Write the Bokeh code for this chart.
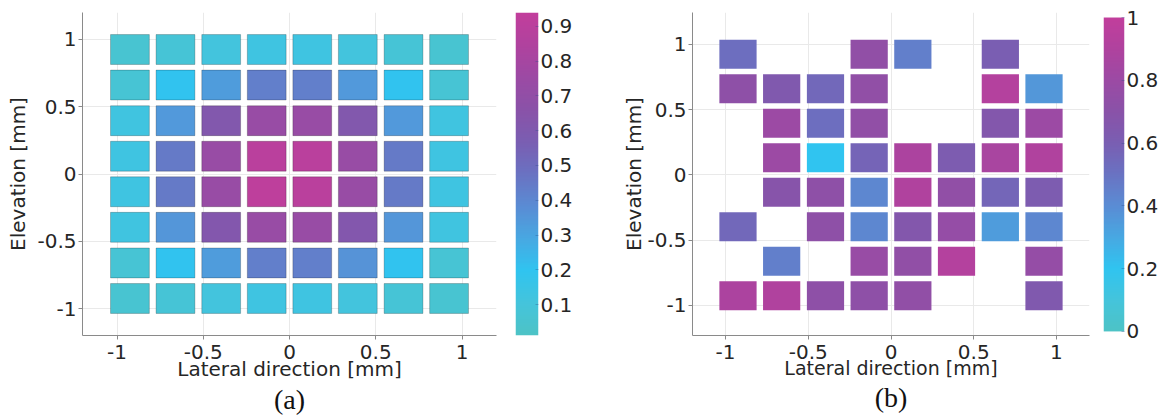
import numpy as np
from bokeh.plotting import figure
from bokeh.models import (LinearColorMapper, FixedTicker, LinearAxis,
                          ColumnDataSource, Range1d)
from bokeh.transform import linear_cmap
from bokeh.layouts import row
from bokeh.embed import file_html
from bokeh.resources import INLINE

# ---------------- data ----------------
lateral_mm = [-0.925, -0.661, -0.396, -0.132, 0.132, 0.396, 0.661, 0.925]
elevation_mm = [0.925, 0.661, 0.396, 0.132, -0.132, -0.396, -0.661, -0.925]

x_limits = [-1.2, 1.2]
a_y_limits = [-1.2, 1.2]
b_y_limits = [-1.23, 1.245]
axis_ticks = [-1, -0.5, 0, 0.5, 1]
axis_tick_labels = ["-1", "-0.5", "0", "0.5", "1"]

cbar_a_ticks = [0.1, 0.2, 0.3, 0.4, 0.5, 0.6, 0.7, 0.8, 0.9]
cbar_a_labels = ["0.1", "0.2", "0.3", "0.4", "0.5", "0.6", "0.7", "0.8", "0.9"]
cbar_a_limits = [0.011, 0.94]
cbar_a_view = [0.011, 0.94]

cbar_b_ticks = [0, 0.2, 0.4, 0.6, 0.8, 1]
cbar_b_labels = ["0", "0.2", "0.4", "0.6", "0.8", "1"]
cbar_b_limits = [0.0, 1.0]
cbar_b_view = [-0.013, 1.016]

# panel (a): rows from top (elevation +) to bottom
a_row1 = [0.06, 0.08, 0.11, 0.13, 0.13, 0.11, 0.08, 0.06]
a_row2 = [0.07, 0.20, 0.33, 0.43, 0.43, 0.34, 0.20, 0.07]
a_row3 = [0.12, 0.34, 0.61, 0.73, 0.73, 0.61, 0.34, 0.12]
a_row4 = [0.13, 0.45, 0.73, 0.90, 0.90, 0.73, 0.45, 0.13]
a_row5 = [0.13, 0.45, 0.73, 0.92, 0.90, 0.73, 0.45, 0.13]
a_row6 = [0.12, 0.35, 0.62, 0.73, 0.73, 0.62, 0.35, 0.12]
a_row7 = [0.07, 0.20, 0.33, 0.43, 0.43, 0.36, 0.20, 0.07]
a_row8 = [0.06, 0.08, 0.11, 0.13, 0.13, 0.11, 0.08, 0.06]

# panel (b): None = no element
b_row1 = [0.52, None, None, 0.74, 0.45, None, 0.60, None]
b_row2 = [0.72, 0.64, 0.55, 0.74, None, None, 0.92, 0.36]
b_row3 = [None, 0.80, 0.52, 0.74, None, None, 0.66, 0.80]
b_row4 = [None, 0.80, 0.20, 0.57, 0.88, 0.62, 0.86, 0.90]
b_row5 = [None, 0.68, 0.72, 0.42, 0.90, 0.74, 0.56, 0.62]
b_row6 = [0.55, None, 0.72, 0.42, 0.66, 0.76, 0.34, 0.42]
b_row7 = [None, 0.45, None, 0.78, 0.74, 0.92, None, 0.76]
b_row8 = [0.88, 0.90, 0.72, 0.72, 0.74, None, None, 0.64]

a_rows = [a_row1, a_row2, a_row3, a_row4, a_row5, a_row6, a_row7, a_row8]
b_rows = [b_row1, b_row2, b_row3, b_row4, b_row5, b_row6, b_row7, b_row8]

# ---------------- style ----------------
SANS = "DejaVu Sans"
SERIF = "Liberation Serif"
TXT = "#262626"

cmap_anchors = [(0.0, "#4dc3c6"), (0.1, "#44c4dc"), (0.2, "#30c4f0"),
                (0.3, "#48a8e2"), (0.4, "#5a8cd4"), (0.5, "#6a72c2"),
                (0.6, "#7a5eb2"), (0.7, "#8a52a8"), (0.8, "#9c4aa4"),
                (0.9, "#b0429e"), (1.0, "#c23e9c")]


def build_palette(anchors, n=256):
    pos = np.array([a[0] for a in anchors])
    rgb = np.array([[int(c[1][i:i + 2], 16) for i in (1, 3, 5)] for c in anchors], float)
    out = []
    for t in np.linspace(0, 1, n):
        r, g, b = (np.interp(t, pos, rgb[:, k]) for k in range(3))
        out.append("#%02x%02x%02x" % (int(round(r)), int(round(g)), int(round(b))))
    return out


PALETTE = build_palette(cmap_anchors)


def cells_source(rows):
    xs, ys, vs = [], [], []
    for i, r in enumerate(rows):
        for j, v in enumerate(r):
            if v is not None:
                xs.append(lateral_mm[j])
                ys.append(elevation_mm[i])
                vs.append(v)
    return ColumnDataSource(dict(x=xs, y=ys, v=vs))


def style_axis(ax, label, size="20px"):
    ax.axis_label = label
    ax.axis_label_text_font = SANS
    ax.axis_label_text_font_size = size
    ax.axis_label_text_font_style = "normal"
    ax.axis_label_text_color = TXT
    ax.major_label_text_font = SANS
    ax.major_label_text_font_size = "20px"
    ax.major_label_text_color = TXT
    ax.ticker = FixedTicker(ticks=axis_ticks)
    ax.major_label_overrides = {t: l for t, l in zip(axis_ticks, axis_tick_labels)}
    ax.axis_line_color = "#8a8a8a"
    ax.major_tick_line_color = "#8a8a8a"
    ax.minor_tick_line_color = None
    ax.major_tick_out = 4
    ax.major_tick_in = 0
    ax.major_label_standoff = 2


def make_panel(rows, limits, y_limits, caption, width, height, mb, line_color,
               line_alpha, xlab_size, ylab_standoff, cap_standoff):
    p = figure(width=width, height=height, x_range=Range1d(*x_limits),
               y_range=Range1d(*y_limits), toolbar_location=None,
               output_backend="svg", min_border_left=mb[0], min_border_right=mb[1],
               min_border_top=mb[2], min_border_bottom=mb[3])
    p.outline_line_color = None
    p.background_fill_color = "white"
    p.border_fill_color = "white"
    for g in (p.xgrid[0], p.ygrid[0]):
        g.ticker = FixedTicker(ticks=axis_ticks)
        g.grid_line_color = "#e9e9e9"
        g.grid_line_width = 1
    src = cells_source(rows)
    p.rect(x="x", y="y", width=0.225, height=0.222, source=src,
           fill_color=linear_cmap("v", PALETTE, limits[0], limits[1]),
           line_color=line_color, line_alpha=line_alpha, line_width=1)
    style_axis(p.xaxis[0], "Lateral direction [mm]", xlab_size)
    p.xaxis[0].major_label_standoff = 5
    p.xaxis[0].axis_label_standoff = -5
    style_axis(p.yaxis[0], "Elevation [mm]")
    p.yaxis[0].axis_label_standoff = ylab_standoff
    cap = LinearAxis(axis_label=caption, ticker=FixedTicker(ticks=[]),
                     axis_line_color=None, major_tick_line_color=None,
                     minor_tick_line_color=None, major_label_text_font_size="0px",
                     major_tick_out=0, major_tick_in=0, major_label_standoff=0,
                     axis_label_standoff=cap_standoff, axis_label_text_font=SERIF,
                     axis_label_text_font_size="28px",
                     axis_label_text_font_style="normal",
                     axis_label_text_color="#111111")
    p.add_layout(cap, "below")
    return p


def make_cbar(limits, view, ticks, labels, width, height, mb, label_size, standoff):
    lo, hi = limits
    c = figure(width=width, height=height, x_range=Range1d(0, 1),
               y_range=Range1d(*view), toolbar_location=None, output_backend="svg",
               x_axis_location=None, y_axis_location="right",
               min_border_left=mb[0], min_border_right=mb[1],
               min_border_top=mb[2], min_border_bottom=mb[3])
    c.outline_line_color = None
    c.grid.visible = False
    mapper = LinearColorMapper(palette=PALETTE, low=lo, high=hi)
    grad = np.linspace(lo, hi, 256).reshape(-1, 1)
    c.image(image=[grad], x=0, y=lo, dw=1, dh=hi - lo, color_mapper=mapper)
    ax = c.yaxis[0]
    ax.ticker = FixedTicker(ticks=ticks)
    ax.major_label_overrides = {t: l for t, l in zip(ticks, labels)}
    ax.major_label_text_font = SANS
    ax.major_label_text_font_size = label_size
    ax.major_label_text_color = TXT
    ax.axis_line_color = None
    ax.major_tick_in = 3
    ax.major_tick_out = 0
    ax.major_tick_line_color = "#2a4a8a"
    ax.major_tick_line_alpha = 0.35
    ax.minor_tick_line_color = None
    ax.major_label_standoff = standoff
    return c


H = 417
TOP, BOTTOM = 12, 82   # shared frame top/bottom for all plots in the row
pa = make_panel(a_rows, cbar_a_limits, a_y_limits, "(a)", 507, H, (82, 11, TOP, BOTTOM),
                "#000000", 0.22, "20px", 4, 0)
ca = make_cbar(cbar_a_limits, cbar_a_view, cbar_a_ticks, cbar_a_labels, 85, H,
               (8, 54, TOP, BOTTOM), "20px", 2)
pb = make_panel(b_rows, cbar_b_limits, b_y_limits, "(b)", 505, H, (100, 8, TOP, BOTTOM),
                None, 1.0, "19px", -2, 0)
cb = make_cbar(cbar_b_limits, cbar_b_view, cbar_b_ticks, cbar_b_labels, 64, H,
               (6, 35, TOP, BOTTOM), "20px", 2)

layout = row(pa, ca, pb, cb)
open("out.html", "w").write(file_html(layout, INLINE))
